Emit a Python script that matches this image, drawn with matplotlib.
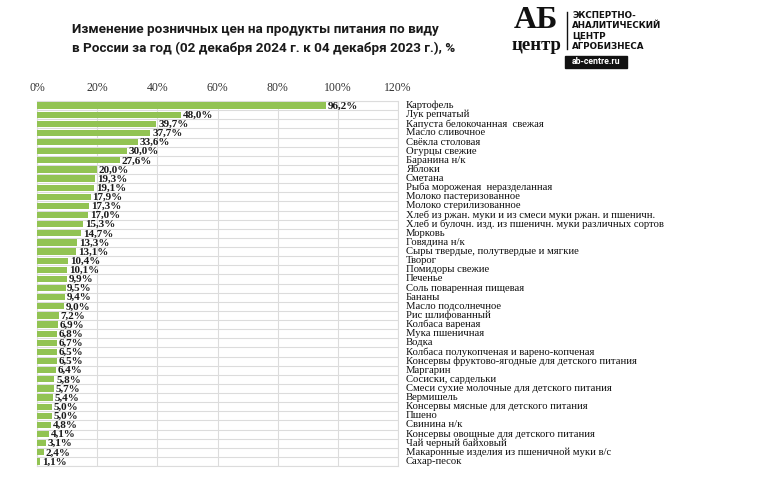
import numpy as np
import matplotlib
matplotlib.use("Agg")
import matplotlib.pyplot as plt
from matplotlib.patches import Rectangle

# Data
products = [
    "Картофель", "Лук репчатый", "Капуста белокочанная  свежая", "Масло сливочное",
    "Свёкла столовая", "Огурцы свежие", "Баранина н/к", "Яблоки", "Сметана",
    "Рыба мороженая  неразделанная", "Молоко пастеризованное", "Молоко стерилизованное",
    "Хлеб из ржан. муки и из смеси муки ржан. и пшеничн.",
    "Хлеб и булочн. изд. из пшеничн. муки различных сортов",
    "Морковь", "Говядина н/к", "Сыры твердые, полутвердые и мягкие", "Творог",
    "Помидоры свежие", "Печенье", "Соль поваренная пищевая", "Бананы",
    "Масло подсолнечное", "Рис шлифованный", "Колбаса вареная", "Мука пшеничная",
    "Водка", "Колбаса полукопченая и варено-копченая",
    "Консервы фруктово-ягодные для детского питания", "Маргарин",
    "Сосиски, сардельки", "Смеси сухие молочные для детского питания", "Вермишель",
    "Консервы мясные для детского питания", "Пшено", "Свинина н/к",
    "Консервы овощные для детского питания", "Чай черный байховый",
    "Макаронные изделия из пшеничной муки в/с", "Сахар-песок",
]
change_pct = [
    96.2, 48.0, 39.7, 37.7, 33.6, 30.0, 27.6, 20.0, 19.3, 19.1,
    17.9, 17.3, 17.0, 15.3, 14.7, 13.3, 13.1, 10.4, 10.1, 9.9,
    9.5, 9.4, 9.0, 7.2, 6.9, 6.8, 6.7, 6.5, 6.5, 6.4,
    5.8, 5.7, 5.4, 5.0, 5.0, 4.8, 4.1, 3.1, 2.4, 1.1,
]
x_ticks = [0, 20, 40, 60, 80, 100, 120]

serif = "Liberation Serif"
grid_col = "#dcdcdc"
bar_col = "#92c353"

fig = plt.figure(figsize=(7.58, 4.79), dpi=100)
ax = fig.add_axes([37 / 758, 1 - 466 / 479, 361 / 758, 365 / 479])

y = np.arange(len(products))
ax.barh(y, change_pct, height=0.68, color=bar_col, zorder=3)

ax.set_xlim(0, 120)
ax.set_ylim(len(products) - 0.5, -0.5)

# grid: vertical at ticks, horizontal between rows
ax.set_xticks(x_ticks)
ax.set_xticklabels([f"{t}%" for t in x_ticks], fontfamily=serif, fontsize=8.5, color="#333333")
ax.xaxis.tick_top()
ax.tick_params(axis="x", length=0, pad=5)
ax.set_yticks(y)
ax.set_yticklabels([])
ax.tick_params(axis="y", length=0)
ax.set_yticks(np.arange(len(products) + 1) - 0.5, minor=True)
ax.tick_params(axis="y", which="minor", length=0)
ax.grid(axis="x", color=grid_col, linewidth=0.8, zorder=0)
ax.grid(axis="y", which="minor", color=grid_col, linewidth=0.8, zorder=0)
for s in ax.spines.values():
    s.set_color(grid_col)
    s.set_linewidth(0.8)

# value labels and category names
for yi, v, name in zip(y, change_pct, products):
    ax.annotate(f"{v:.1f}%".replace(".", ","), (v, yi), xytext=(1.2, -0.4),
                textcoords="offset points", va="center", ha="left",
                fontfamily=serif, fontweight="bold", fontsize=8.0, color="#1a1a1a")
    ax.annotate(name, (120, yi), xytext=(5.5, 0), textcoords="offset points",
                va="center", ha="left", fontfamily=serif, fontsize=7.7,
                color="#111111", annotation_clip=False)

# title
fig.text(72 / 758, 1 - 30 / 479,
         "Изменение розничных цен на продукты питания по виду",
         fontfamily="Roboto", fontweight="bold", fontsize=9.7, va="center", color="#1a1a1a")
fig.text(72 / 758, 1 - 48 / 479,
         "в России за год (02 декабря 2024 г. к 04 декабря 2023 г.), %",
         fontfamily="Roboto", fontweight="bold", fontsize=9.7, va="center", color="#1a1a1a")

# logo
fig.text(536 / 758, 1 - 21 / 479, "АБ", fontfamily=serif, fontweight="bold",
         fontsize=23, ha="center", va="center", color="#111111")
fig.text(536 / 758, 1 - 45 / 479, "центр", fontfamily=serif, fontweight="bold",
         fontsize=13.5, ha="center", va="center", color="#111111")
fig.add_artist(plt.Line2D([567 / 758, 567 / 758], [1 - 12 / 479, 1 - 49 / 479],
                          color="#111111", linewidth=1.0))
for i, line in enumerate(["ЭКСПЕРТНО-", "АНАЛИТИЧЕСКИЙ", "ЦЕНТР", "АГРОБИЗНЕСА"]):
    fig.text(572 / 758, 1 - (15 + i * 10.5) / 479, line, fontfamily="DejaVu Sans",
             fontweight="bold", fontsize=6.3, va="center", color="#111111")
fig.add_artist(Rectangle((565 / 758, 1 - 68 / 479), 62 / 758, 12 / 479,
                         transform=fig.transFigure, color="#111111"))
fig.text(596 / 758, 1 - 62 / 479, "ab-centre.ru", fontfamily="Roboto",
         fontweight="bold", fontsize=6.3, ha="center", va="center", color="white")

fig.savefig("out.png", dpi=100, facecolor="white")
